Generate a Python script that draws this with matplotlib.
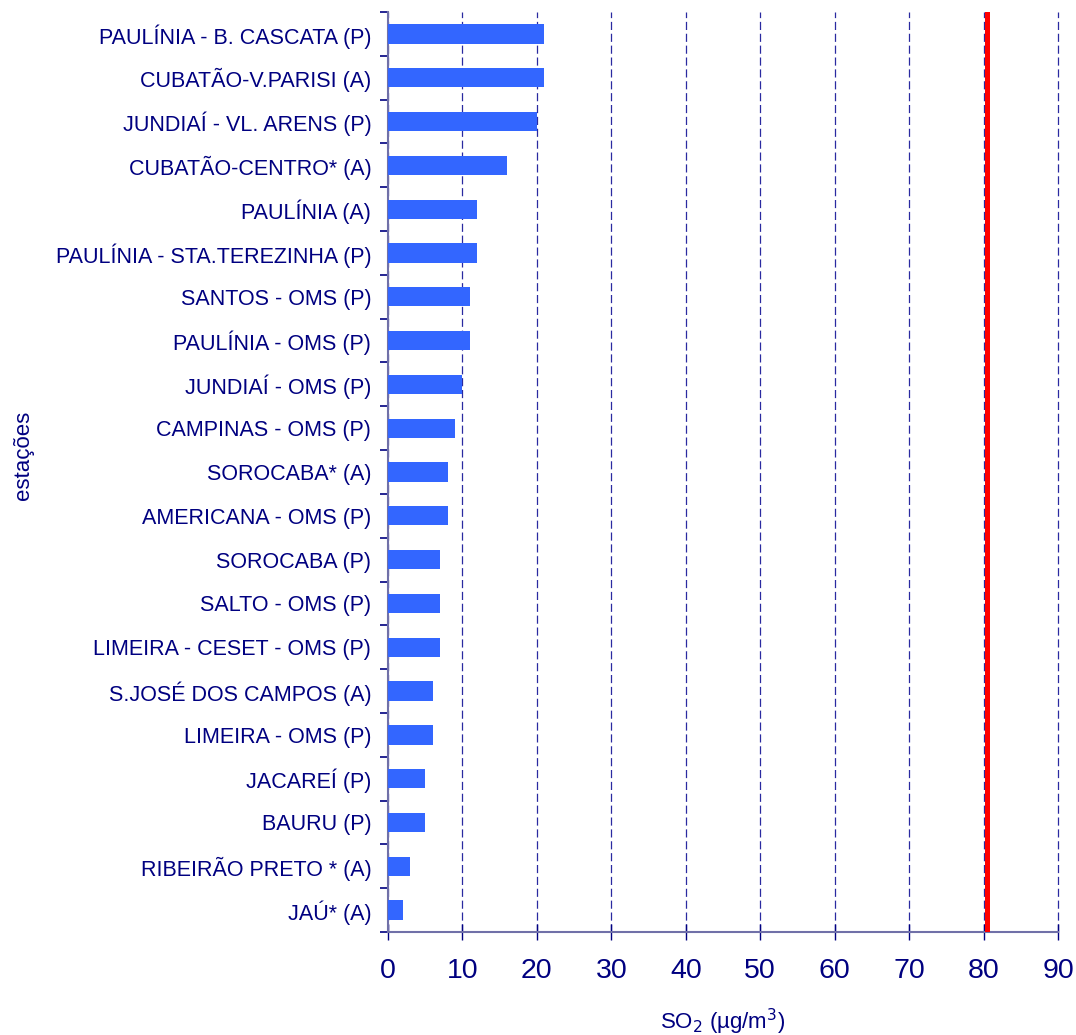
import matplotlib
matplotlib.use("Agg")
import matplotlib.pyplot as plt
import numpy as np

plt.rcParams["font.family"] = ["Liberation Sans", "DejaVu Sans"]

NAVY = "#000080"
BAR_COLOR = "#3366FF"
LIMIT_COLOR = "#FF0000"

# stations, top to bottom as shown
stations = [
    "PAULÍNIA - B. CASCATA (P)",
    "CUBATÃO-V.PARISI (A)",
    "JUNDIAÍ - VL. ARENS (P)",
    "CUBATÃO-CENTRO* (A)",
    "PAULÍNIA (A)",
    "PAULÍNIA - STA.TEREZINHA (P)",
    "SANTOS - OMS (P)",
    "PAULÍNIA - OMS (P)",
    "JUNDIAÍ - OMS (P)",
    "CAMPINAS - OMS (P)",
    "SOROCABA* (A)",
    "AMERICANA - OMS (P)",
    "SOROCABA (P)",
    "SALTO - OMS (P)",
    "LIMEIRA - CESET - OMS (P)",
    "S.JOSÉ DOS CAMPOS (A)",
    "LIMEIRA - OMS (P)",
    "JACAREÍ (P)",
    "BAURU (P)",
    "RIBEIRÃO PRETO * (A)",
    "JAÚ* (A)",
]
so2_values = [21, 21, 20, 16, 12, 12, 11, 11, 10, 9, 8, 8, 7, 7, 7, 6, 6, 5, 5, 3, 2]
limit_value = 80.4
x_ticks = [0, 10, 20, 30, 40, 50, 60, 70, 80, 90]

fig = plt.figure(figsize=(10.76, 10.35), dpi=100)
ax = fig.add_axes([0.3606, 0.0995, 0.6227, 0.8889])

n = len(stations)
y = np.arange(n)
ax.barh(y, so2_values, height=0.44, color=BAR_COLOR, zorder=3)

ax.axvline(limit_value, color=LIMIT_COLOR, lw=3.6, zorder=4)

ax.set_xlim(0, 90)
ax.set_ylim(n - 0.5, -0.5)
ax.set_xticks(x_ticks)
ax.set_xticklabels([str(v) for v in x_ticks], fontsize=20.5, color=NAVY)
ax.xaxis.grid(True, linestyle=(0, (6.5, 3)), color="#2a2aa0", lw=0.9, zorder=0)
for gl in ax.get_xgridlines():
    gl.set_clip_on(False)

# category labels centered, ticks between categories
ax.set_yticks(y)
ax.set_yticklabels(stations, fontsize=15.5, color=NAVY)
ax.tick_params(axis="y", length=0, pad=12)
ax.set_yticks(np.arange(-0.5, n, 1), minor=True)
ax.tick_params(axis="y", which="minor", length=6, width=1.2, color=NAVY, direction="out")
ax.tick_params(axis="x", length=12, width=1.0, color=NAVY, direction="inout", pad=13)

for side in ["top", "right"]:
    ax.spines[side].set_visible(False)
for side in ["left", "bottom"]:
    ax.spines[side].set_color("#7070a8")
    ax.spines[side].set_linewidth(1.5)

ax.set_xlabel("SO$_2$ (µg/m$^3$)", fontsize=16, color=NAVY, labelpad=16)
fig.text(0.022, 0.56, "estações", rotation=90, fontsize=16, color=NAVY, ha="center", va="center")

fig.savefig("out.png", dpi=100)
